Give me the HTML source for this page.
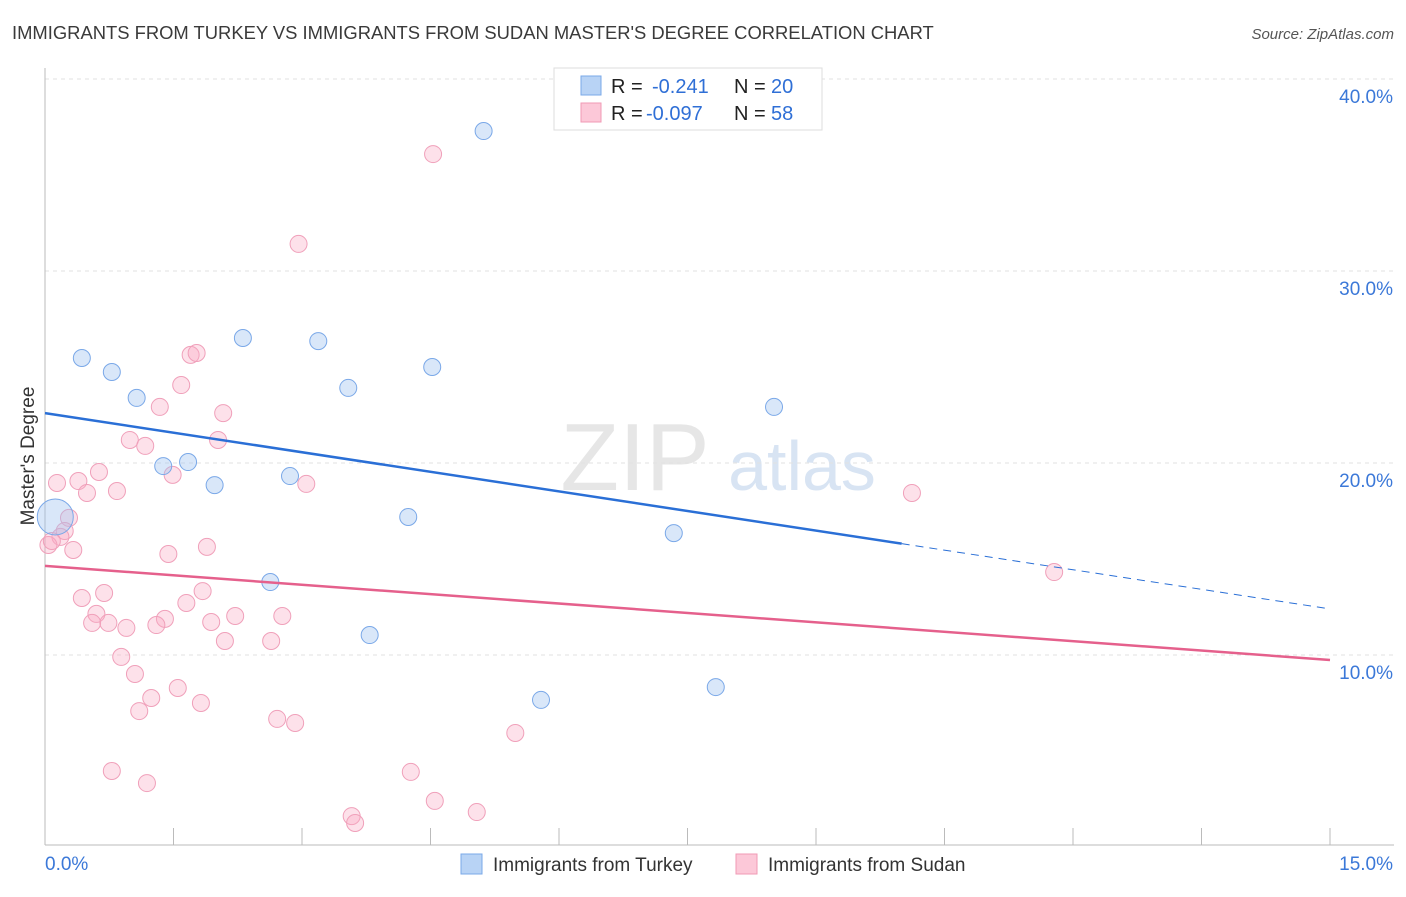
<!DOCTYPE html>
<html><head><meta charset="utf-8"><style>
body{margin:0;background:#fff;font-family:"Liberation Sans",sans-serif;}
svg text{font-family:"Liberation Sans",sans-serif;}
</style></head><body>
<svg id="chart" width="1406" height="892" xmlns="http://www.w3.org/2000/svg">
<text x="12" y="39" font-size="18.4" fill="#3a3a3a">IMMIGRANTS FROM TURKEY VS IMMIGRANTS FROM SUDAN MASTER'S DEGREE CORRELATION CHART</text>
<text x="1394" y="39" font-size="15" fill="#555" text-anchor="end" font-style="italic">Source: ZipAtlas.com</text>
<text transform="translate(34,456) rotate(-90)" font-size="19" fill="#333" text-anchor="middle">Master's Degree</text>
<g>
<text x="635" y="490" font-size="96" fill="#e6e6e6" text-anchor="middle" font-family="Liberation Serif">ZIP</text>
<text x="802" y="490" font-size="70" fill="#d8e4f3" text-anchor="middle">atlas</text>
</g>
<g id="grid"></g>
<g id="axes"></g>
<g id="marks"></g>
<g>
<rect x="554" y="68" width="268" height="62" fill="#fff" stroke="#ddd"/>
<rect x="581" y="76" width="20" height="19" fill="#b8d3f5" stroke="#7aa8e8"/>
<rect x="581" y="103" width="20" height="19" fill="#fcc8d8" stroke="#f09ab5"/>
<text x="611" y="93" font-size="20" fill="#222">R = <tspan x="652" fill="#2f6fd6">-0.241</tspan><tspan x="734">N = </tspan><tspan x="771" fill="#2f6fd6">20</tspan></text>
<text x="611" y="120" font-size="20" fill="#222">R = <tspan x="646" fill="#2f6fd6">-0.097</tspan><tspan x="734">N = </tspan><tspan x="771" fill="#2f6fd6">58</tspan></text>
</g>
<g>
<rect x="461" y="854" width="21" height="20" fill="#b8d3f5" stroke="#7aa8e8"/>
<text x="493" y="871" font-size="19" fill="#333">Immigrants from Turkey</text>
<rect x="736" y="854" width="21" height="20" fill="#fcc8d8" stroke="#f09ab5"/>
<text x="768" y="871" font-size="19" fill="#333">Immigrants from Sudan</text>
</g>
</svg>
<script>
const yTicks=[10,20,30,40];
const yTickLabels=["10.0%","20.0%","30.0%","40.0%"];
const xTickVals=[0,1.5,3,4.5,6,7.5,9,10.5,12,13.5,15];
const turkeyX=[0.43,0.78,1.07,1.38,1.67,1.98,2.31,2.86,3.19,3.54,4.24,4.52,5.12,3.79,2.63,5.79,7.34,7.83,8.51,0.12];
const turkeyY=[25.47,24.74,23.39,19.84,20.05,18.85,26.51,19.32,26.35,23.91,17.19,25.0,37.29,11.04,13.80,7.66,16.35,8.33,22.92,17.19];
const sudanX=[4.53,2.96,1.70,1.77,1.59,1.34,2.08,0.99,1.17,2.02,0.63,0.39,0.14,0.49,0.84,1.49,3.05,0.28,0.23,0.18,0.04,0.08,0.33,1.44,1.89,0.69,0.43,1.84,1.65,0.60,0.55,0.74,0.95,1.40,1.30,1.94,2.22,2.77,2.10,2.64,0.89,1.05,1.55,1.24,1.10,1.82,2.71,2.92,5.49,0.78,1.19,4.27,4.55,3.58,3.62,5.04,10.12,11.78];
const sudanY=[36.09,31.41,25.63,25.73,24.06,22.92,22.60,21.20,20.89,21.20,19.53,19.06,18.96,18.44,18.54,19.38,18.91,17.14,16.46,16.15,15.73,15.94,15.47,15.26,15.63,13.23,12.97,13.33,12.71,12.14,11.67,11.67,11.41,11.88,11.56,11.72,12.03,12.03,10.73,10.73,9.90,9.01,8.28,7.76,7.08,7.50,6.67,6.46,5.94,3.96,3.33,3.91,2.40,1.61,1.25,1.82,18.44,14.32];
const turkeyTrend=[22.6,12.4];
const turkeySolidEnd=10.0;
const sudanTrend=[14.64,9.74];

const NS="http://www.w3.org/2000/svg";
function X(v){return 45+v/15*1285;}
function Y(v){return 847-v*19.2;}
function mk(parent,tag,attrs){const e=document.createElementNS(NS,tag);for(const k in attrs)e.setAttribute(k,attrs[k]);document.getElementById(parent).appendChild(e);return e;}

yTicks.forEach((t,i)=>{
  const l=mk('grid','line',{x1:45,x2:1394,y1:Y(t),y2:Y(t),stroke:'#e2e2e2','stroke-dasharray':'4,4'});
  
  
  const tx=mk('grid','text',{x:1393,y:Y(t)+24,'font-size':19,fill:'#3b78d8','text-anchor':'end'});
  tx.textContent=yTickLabels[i];
  
  
});
const ax=mk('axes','line',{x1:45,x2:45,y1:68,y2:845,stroke:'#bbb'});


const bx=mk('axes','line',{x1:45,x2:1394,y1:845,y2:845,stroke:'#bbb'});


xTickVals.forEach(v=>{
  const t=mk('axes','line',{x1:X(v),x2:X(v),y1:828,y2:845,stroke:'#bbb'});
  
  
});
const xl0=mk('axes','text',{x:45,y:870,'font-size':19,fill:'#3b78d8'});xl0.textContent='0.0%';


const xl1=mk('axes','text',{x:1393,y:870,'font-size':19,fill:'#3b78d8','text-anchor':'end'});xl1.textContent='15.0%';



sudanX.forEach((x,i)=>{
  const c=mk('marks','circle',{cx:X(x),cy:Y(sudanY[i]),r:8.5,fill:'rgba(248,170,195,0.35)',stroke:'#f0a0ba','stroke-width':1});
  
  
});
turkeyX.forEach((x,i)=>{
  const big=i===turkeyX.length-1;
  const c=mk('marks','circle',{cx:X(x),cy:Y(turkeyY[i]),r:big?18:8.5,fill:'rgba(160,195,240,0.4)',stroke:'#7aa8e8','stroke-width':1});
  
  
});
function ty(tr,x){return tr[0]+(tr[1]-tr[0])*x/15;}
const b1=mk('marks','line',{x1:X(0),y1:Y(turkeyTrend[0]),x2:X(turkeySolidEnd),y2:Y(ty(turkeyTrend,turkeySolidEnd)),stroke:'#2a6fd6','stroke-width':2.5});


const b2=mk('marks','line',{x1:X(turkeySolidEnd),y1:Y(ty(turkeyTrend,turkeySolidEnd)),x2:X(15),y2:Y(turkeyTrend[1]),stroke:'#2a6fd6','stroke-width':1,'stroke-dasharray':'8,6'});


const p1=mk('marks','line',{x1:X(0),y1:Y(sudanTrend[0]),x2:X(15),y2:Y(sudanTrend[1]),stroke:'#e5608c','stroke-width':2.5});


</script>
</body></html>
